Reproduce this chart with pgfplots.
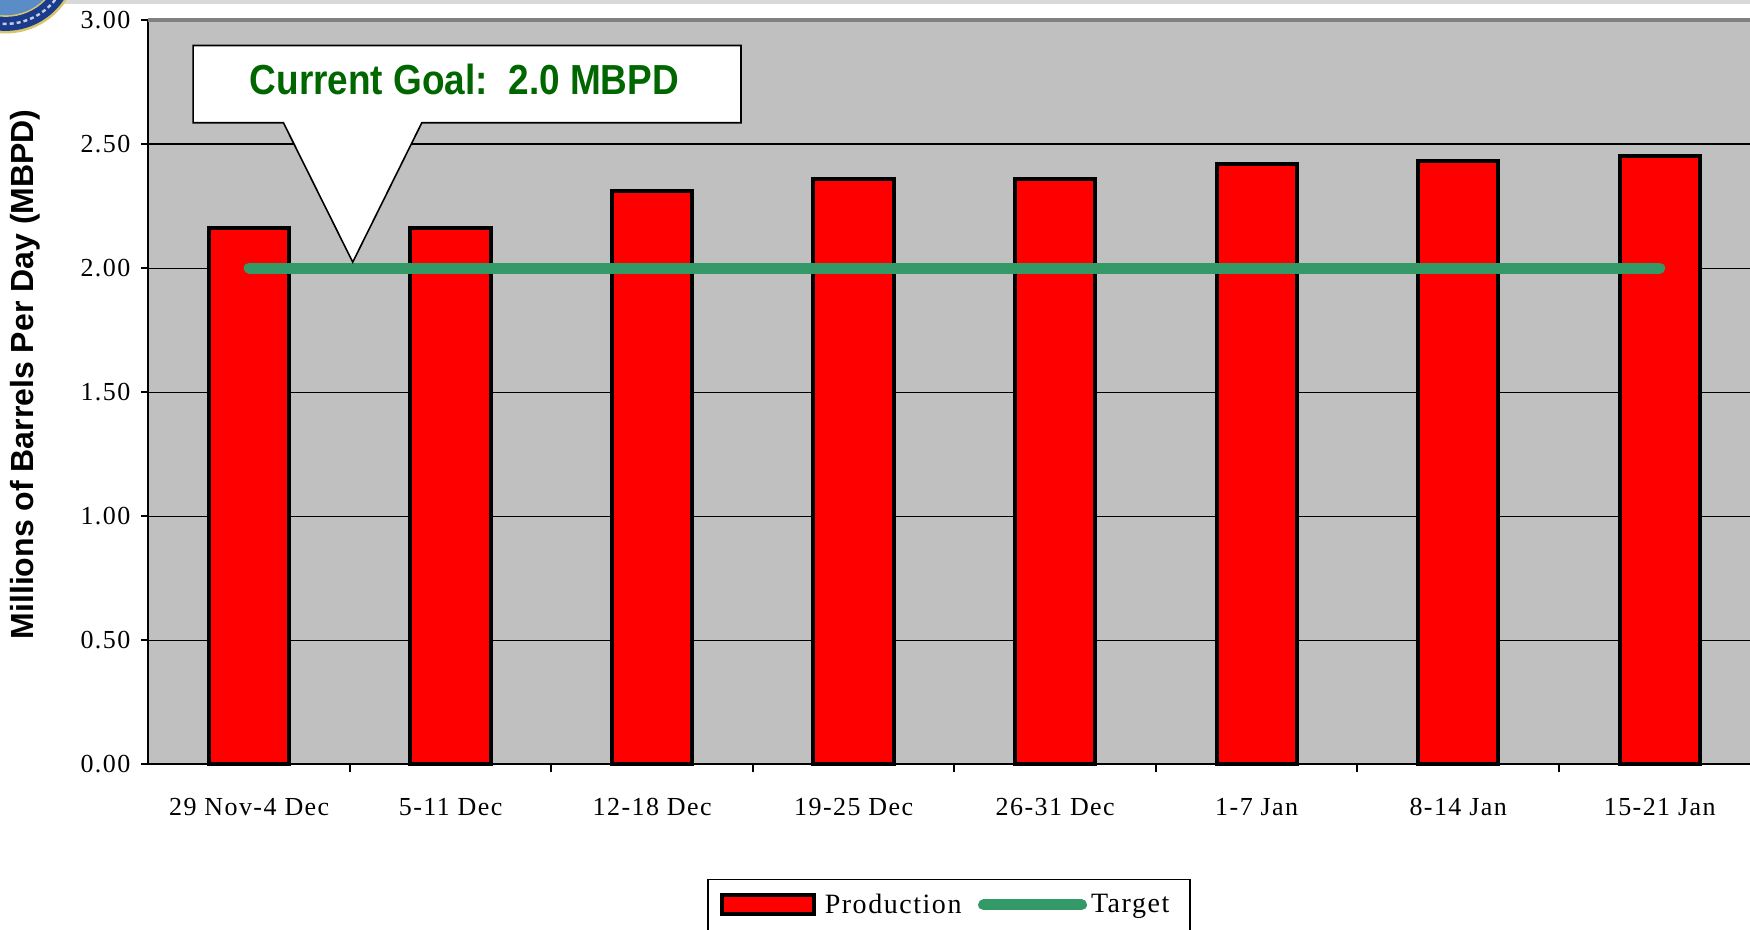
\documentclass[border=0pt]{standalone}
\usepackage{fontspec}
\setmainfont{Liberation Serif}
\newfontfamily\arialfont{Liberation Sans}
\newfontfamily\timesspaced{Liberation Serif}[LetterSpace=5.5]
\usepackage{pgfplots}
\pgfplotsset{compat=1.18}
\definecolor{plotgray}{HTML}{C0C0C0}
\definecolor{bordergray}{HTML}{808080}
\definecolor{targetgreen}{HTML}{339966}
\definecolor{goalgreen}{HTML}{006600}
\definecolor{sealblue}{HTML}{1B3C8D}
\definecolor{seallight}{HTML}{5A8CC8}
\definecolor{sealgold}{HTML}{D8C56A}

\begin{document}
\begin{tikzpicture}
\path[use as bounding box] (-74.2pt,-82.75pt) rectangle (800.8pt,382.2pt);
\clip (-74.2pt,-82.75pt) rectangle (800.8pt,382.2pt);
\fill[black!15] (-74.2pt,380.2pt) rectangle (800.8pt,382.2pt);
% partial seal in the corner
\fill[sealgold] (-71.4pt,401.75pt) circle (36.3pt);
\fill[sealblue] (-71.4pt,401.75pt) circle (35pt);
\draw[white!75!sealblue, line width=1.2pt, dash pattern=on 2pt off 1.5pt] (-71.4pt,401.75pt) circle (31.5pt);
\fill[sealgold] (-71.4pt,401.75pt) circle (28pt);
\fill[seallight] (-71.4pt,401.75pt) circle (27.2pt);
\begin{axis}[
  at={(0pt,0pt)}, anchor=south west,
  scale only axis, width=800.8pt, height=372.2pt,
  xmin=-0.5, xmax=7.448, ymin=0, ymax=3,
  clip=false,
  axis background/.style={fill=plotgray},
  axis x line*=bottom, axis y line*=left,
  axis line style={black, line width=1pt},
  tick align=outside,
  major tick length=3.5pt, minor tick length=4pt,
  xtick={0,...,7},
  xticklabels={29 Nov-4 Dec,5-11 Dec,12-18 Dec,19-25 Dec,26-31 Dec,1-7 Jan,8-14 Jan,15-21 Jan},
  minor xtick={0.5,1.5,...,6.5},
  major x tick style={draw=none},
  minor x tick style={draw=black, line width=1pt},
  ytick={0,0.5,...,3},
  y tick style={black, line width=1pt},
  ymajorgrids,
  major grid style={black, line width=0.6pt},
  /pgf/number format/assume math mode=true,
  tick label style={font=\timesspaced\fontsize{13}{13}\selectfont},
  x tick label style={yshift=-10pt},
  y tick label style={xshift=-2pt, /pgf/number format/fixed, /pgf/number format/fixed zerofill, /pgf/number format/precision=2},
  ylabel={Millions of Barrels Per Day (MBPD)},
  ylabel style={font=\arialfont\bfseries\fontsize{16}{16}\selectfont, at={(axis description cs:-0.0767,0.524)}, anchor=center},
  legend style={at={(0.349,-0.1538)}, anchor=north west, draw=black, line width=0.8pt, fill=white,
    font=\timesspaced\fontsize{14}{14}\selectfont, legend columns=2, inner xsep=5.8pt, inner ysep=5pt,
    /tikz/every even column/.append style={column sep=6.3pt}},
  legend cell align=left,
]
\addplot[ybar, bar width=40.2pt, bar shift=0pt, fill=red, draw=black, line width=2pt,
  legend image code/.code={\draw[fill=red, draw=black, line width=2pt] (0pt,-4.75pt) rectangle (46pt,4.75pt);
    \path (48.5pt,-8pt);}]
  coordinates {(0,2.16) (1,2.16) (2,2.31) (3,2.36) (4,2.36) (5,2.42) (6,2.43) (7,2.45)};
\addlegendentry{Production}
\addplot[targetgreen, line width=5.5pt, line cap=round, mark=none,
  legend image code/.code={\draw[targetgreen, line width=5.5pt, line cap=round] (0.55pt,0pt) -- (49.5pt,0pt);}]
  coordinates {(0,2.0) (7,2.0)};
\addlegendentry{Target\hspace*{2.5pt}}
% callout
\draw[fill=white, draw=black, line width=0.8pt]
  (axis cs:-0.278,2.897) -- (axis cs:2.441,2.897) -- (axis cs:2.441,2.586) --
  (axis cs:0.857,2.586) -- (axis cs:0.514,2.024) -- (axis cs:0.170,2.586) --
  (axis cs:-0.278,2.586) -- cycle;
\node[font=\arialfont\bfseries\fontsize{21}{21}\selectfont, text=goalgreen]
  at (axis cs:1.068,2.762) {\scalebox{0.88}[1]{Current Goal:\ \ 2.0 MBPD}};
\draw[bordergray, line width=2pt] (rel axis cs:0,1) -- (rel axis cs:1,1);
\end{axis}
\end{tikzpicture}
\end{document}
